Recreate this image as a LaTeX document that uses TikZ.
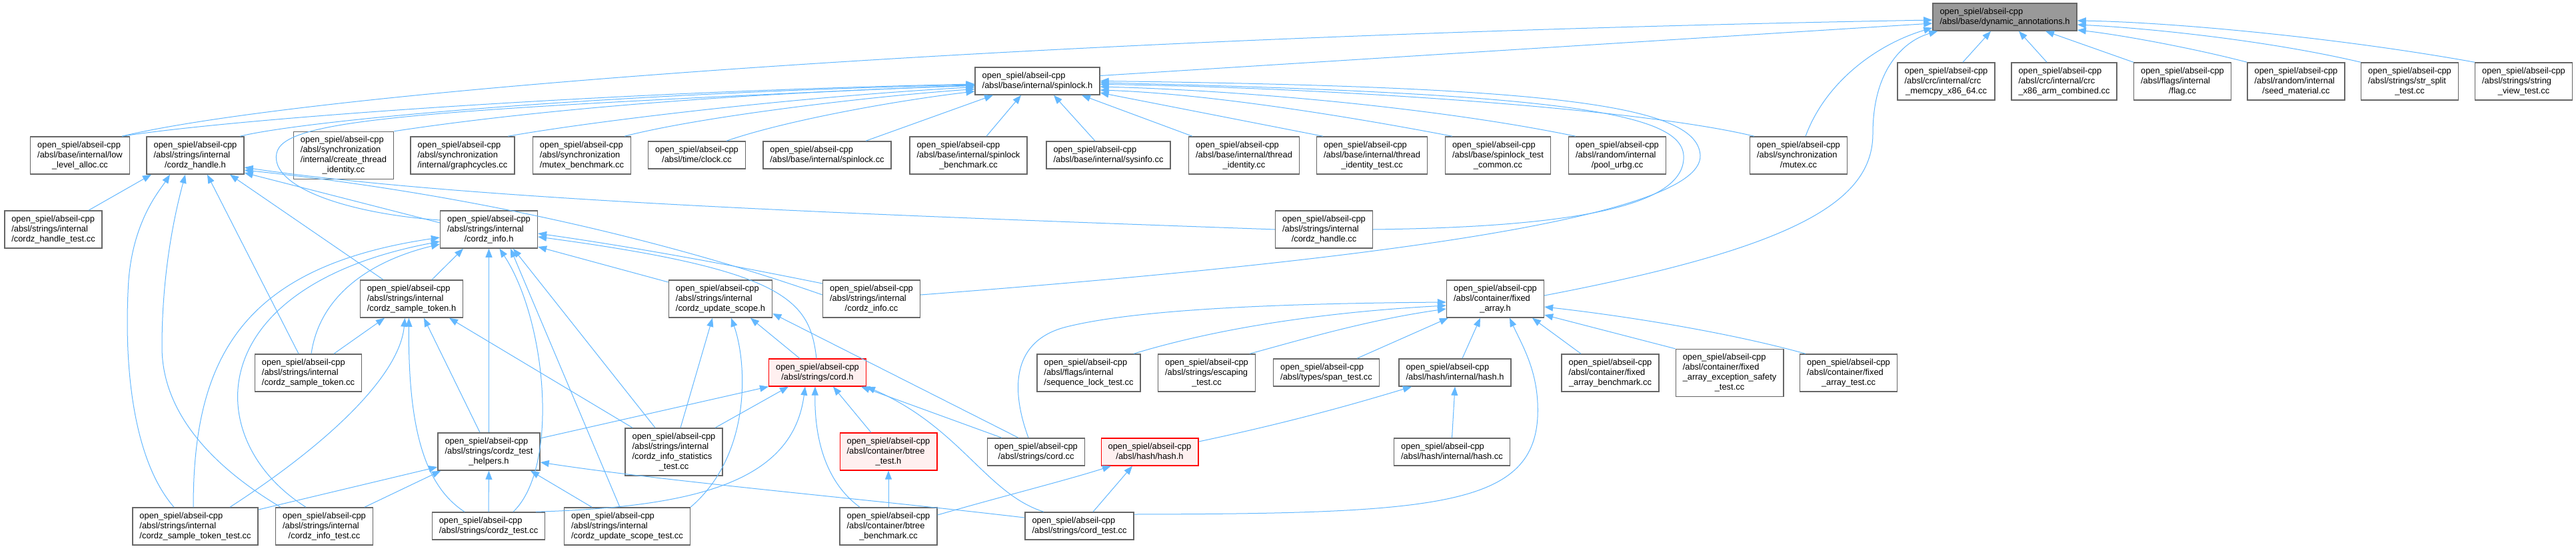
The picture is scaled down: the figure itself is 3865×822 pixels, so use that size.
\documentclass[tikz,border=0pt]{standalone}
\usepackage{fontspec}
\setmainfont{Liberation Sans}
\usetikzlibrary{arrows.meta}
\definecolor{edgeblue}{HTML}{63B8FF}
\definecolor{boxline}{HTML}{666666}
\definecolor{rootfill}{HTML}{999999}
\definecolor{hotfill}{HTML}{FFF0F0}
\newcommand{\fpath}[2]{\begin{tabular}{@{}l@{}}open\_spiel/abseil-cpp\\#1\multicolumn{1}{@{}c@{}}{#2}\end{tabular}}

\begin{document}
\begin{tikzpicture}[x=1pt, y=-1pt,
  file/.style={draw=boxline, fill=white, line width=1.5pt, inner xsep=10.5pt, inner ysep=5.5pt, font=\fontsize{12.9}{15}\selectfont},
  root/.style={file, fill=rootfill},
  hot/.style={file, draw=red, fill=hotfill, line width=1.2pt},
  inc/.style={draw=edgeblue, line width=1pt, -{Triangle[length=13pt,width=10pt]}}
]
\path[use as bounding box, fill=white] (0,0) rectangle (3865,822);

\node[root] (dyn) at (3008,25.5) {\fpath{}{/absl/base/dynamic\_annotations.h}};
\node[file] (spin) at (1556.5,121.5) {\fpath{}{/absl/base/internal/spinlock.h}};
\node[file] (crcm) at (2920,122) {\fpath{/absl/crc/internal/crc\\}{\_memcpy\_x86\_64.cc}};
\node[file] (crcx) at (3097,122) {\fpath{/absl/crc/internal/crc\\}{\_x86\_arm\_combined.cc}};
\node[file] (flag) at (3274.5,122) {\fpath{/absl/flags/internal\\}{/flag.cc}};
\node[file] (seed) at (3445,122) {\fpath{/absl/random/internal\\}{/seed\_material.cc}};
\node[file] (split) at (3615.5,122) {\fpath{/absl/strings/str\_split\\}{\_test.cc}};
\node[file] (sview) at (3786.5,122) {\fpath{/absl/strings/string\\}{\_view\_test.cc}};

\node[file] (lla) at (120,233) {\fpath{/absl/base/internal/low\\}{\_level\_alloc.cc}};
\node[file] (chh) at (293,233) {\fpath{/absl/strings/internal\\}{/cordz\_handle.h}};
\node[file] (cti) at (515.5,233) {\fpath{/absl/synchronization\\/internal/create\_thread\\}{\_identity.cc}};
\node[file] (gc) at (694,233) {\fpath{/absl/synchronization\\}{/internal/graphcycles.cc}};
\node[file] (mb) at (873,233) {\fpath{/absl/synchronization\\}{/mutex\_benchmark.cc}};
\node[file] (clk) at (1045.5,232.5) {\fpath{}{/absl/time/clock.cc}};
\node[file] (slcc) at (1241,232.5) {\fpath{}{/absl/base/internal/spinlock.cc}};
\node[file] (slb) at (1453,233) {\fpath{/absl/base/internal/spinlock\\}{\_benchmark.cc}};
\node[file] (sys) at (1663,232.5) {\fpath{}{/absl/base/internal/sysinfo.cc}};
\node[file] (ti) at (1866.5,233) {\fpath{/absl/base/internal/thread\\}{\_identity.cc}};
\node[file] (tit) at (2058.5,233) {\fpath{/absl/base/internal/thread\\}{\_identity\_test.cc}};
\node[file] (stc) at (2247.5,233) {\fpath{/absl/base/spinlock\_test\\}{\_common.cc}};
\node[file] (pu) at (2426.5,233) {\fpath{/absl/random/internal\\}{/pool\_urbg.cc}};
\node[file] (mtx) at (2698.5,233) {\fpath{/absl/synchronization\\}{/mutex.cc}};

\node[file] (cht) at (80,344) {\fpath{/absl/strings/internal\\}{/cordz\_handle\_test.cc}};
\node[file] (cih) at (733.5,344) {\fpath{/absl/strings/internal\\}{/cordz\_info.h}};
\node[file] (chc) at (1986.5,344) {\fpath{/absl/strings/internal\\}{/cordz\_handle.cc}};

\node[file] (csth) at (617.5,448) {\fpath{/absl/strings/internal\\}{/cordz\_sample\_token.h}};
\node[file] (cush) at (1081,448) {\fpath{/absl/strings/internal\\}{/cordz\_update\_scope.h}};
\node[file] (cicc) at (1307.5,448) {\fpath{/absl/strings/internal\\}{/cordz\_info.cc}};
\node[file] (fah) at (2243.5,448) {\fpath{/absl/container/fixed\\}{\_array.h}};

\node[file] (cstc) at (462.5,559) {\fpath{/absl/strings/internal\\}{/cordz\_sample\_token.cc}};
\node[hot] (cordh) at (1226.5,558.5) {\fpath{}{/absl/strings/cord.h}};
\node[file] (slt) at (1633.5,559) {\fpath{/absl/flags/internal\\}{/sequence\_lock\_test.cc}};
\node[file] (esc) at (1810.5,559) {\fpath{/absl/strings/escaping\\}{\_test.cc}};
\node[file] (span) at (1990,558.5) {\fpath{}{/absl/types/span\_test.cc}};
\node[file] (hih) at (2183,558.5) {\fpath{}{/absl/hash/internal/hash.h}};
\node[file] (fab) at (2416,559) {\fpath{/absl/container/fixed\\}{\_array\_benchmark.cc}};
\node[file] (fae) at (2595,559) {\fpath{/absl/container/fixed\\\_array\_exception\_safety\\}{\_test.cc}};
\node[file] (fat) at (2773.5,559) {\fpath{/absl/container/fixed\\}{\_array\_test.cc}};

\node[file] (cth) at (733.5,677) {\fpath{/absl/strings/cordz\_test\\}{\_helpers.h}};
\node[file] (cist) at (1011,677.5) {\fpath{/absl/strings/internal\\/cordz\_info\_statistics\\}{\_test.cc}};
\node[hot] (btth) at (1333,677) {\fpath{/absl/container/btree\\}{\_test.h}};
\node[file] (cordcc) at (1554.5,677.5) {\fpath{}{/absl/strings/cord.cc}};
\node[hot] (hashh) at (1725,677.5) {\fpath{}{/absl/hash/hash.h}};
\node[file] (hashcc) at (2178.5,677.5) {\fpath{}{/absl/hash/internal/hash.cc}};

\node[file] (cstt) at (293,789) {\fpath{/absl/strings/internal\\}{/cordz\_sample\_token\_test.cc}};
\node[file] (cit) at (486.5,789) {\fpath{/absl/strings/internal\\}{/cordz\_info\_test.cc}};
\node[file] (ctest) at (733,788.5) {\fpath{}{/absl/strings/cordz\_test.cc}};
\node[file] (cust) at (941,789) {\fpath{/absl/strings/internal\\}{/cordz\_update\_scope\_test.cc}};
\node[file] (btb) at (1333,789) {\fpath{/absl/container/btree\\}{\_benchmark.cc}};
\node[file] (cordtest) at (1619.5,788.5) {\fpath{}{/absl/strings/cord\_test.cc}};

\draw[inc] ([yshift=8pt]spin.east) -- ([yshift=-9.5pt]dyn.west);
\draw[inc] ([xshift=63pt]lla.north) .. controls (450,140) and (1500,55) .. ([yshift=-4.5pt]dyn.west);
\draw[inc] ([xshift=10.5pt]mtx.north) .. controls (2740,120) and (2820,65) .. ([yshift=5pt]dyn.south west);
\draw[inc] ([yshift=5pt]fah.east) .. controls (2700,370) and (2810,300) .. (2810,200) .. controls (2810,100) and (2860,60) .. ([xshift=8pt]dyn.south west);
\draw[inc] ([xshift=25pt]crcm.north) -- ([xshift=-21pt]dyn.south);
\draw[inc] ([xshift=-26pt]crcx.north) -- ([xshift=21pt]dyn.south);
\draw[inc] (flag.north west) -- ([xshift=61pt]dyn.south);
\draw[inc] (seed.north west) .. controls (3290,72) and (3180,52) .. ([yshift=-19.5pt]dyn.east);
\draw[inc] (split.north west) .. controls (3400,60) and (3220,42) .. ([yshift=-11.5pt]dyn.east);
\draw[inc] (sview.north west) .. controls (3500,55) and (3250,33) .. ([yshift=-5.5pt]dyn.east);

\draw[inc] ([xshift=63pt]lla.north) .. controls (350,178) and (900,138) .. ([yshift=-4.5pt]spin.west);
\draw[inc] ([xshift=67pt]chh.north) .. controls (460,180) and (900,140) .. ([yshift=-5.5pt]spin.west);
\draw[inc] (cti.north east) .. controls (800,165) and (1100,140) .. ([yshift=-7pt]spin.west);
\draw[inc] ([xshift=68pt]gc.north) .. controls (900,180) and (1200,145) .. ([yshift=-9pt]spin.west);
\draw[inc] ([xshift=64pt]mb.north) .. controls (1050,175) and (1300,145) .. ([yshift=-12pt]spin.west);
\draw[inc] ([xshift=44.5pt]clk.north) .. controls (1180,180) and (1350,150) .. ([yshift=-15.5pt]spin.west);
\draw[inc] ([yshift=14pt]cih.west) .. controls (520,320) and (405,280) .. (415,230) .. controls (425,180) and (600,165) .. ([yshift=-6pt]spin.west);
\draw[inc] ([xshift=58pt]slcc.north) -- ([xshift=-66.5pt]spin.south);
\draw[inc] ([xshift=27pt]slb.north) -- ([xshift=-24.5pt]spin.south);
\draw[inc] ([xshift=-20pt]sys.north) -- ([xshift=24.5pt]spin.south);
\draw[inc] ([xshift=-77.5pt]ti.north) -- ([xshift=66.5pt]spin.south);
\draw[inc] ([xshift=-73.5pt]tit.north) -- ([yshift=-17.5pt]spin.east);
\draw[inc] ([xshift=-68.5pt]stc.north) .. controls (2000,170) and (1800,140) .. ([yshift=-13.5pt]spin.east);
\draw[inc] ([xshift=-62.5pt]pu.north) .. controls (2150,160) and (1850,135) .. ([yshift=-8.5pt]spin.east);
\draw[inc] ([xshift=-66.5pt]mtx.north) .. controls (2450,160) and (1950,130) .. ([yshift=-5pt]spin.east);
\draw[inc] (chc.east) .. controls (2400,340) and (2530,300) .. (2526,233) .. controls (2522,170) and (2350,140) .. ([yshift=-2.5pt]spin.east);
\draw[inc] ([yshift=6pt]cicc.east) .. controls (2000,395) and (2555,330) .. (2551,233) .. controls (2547,160) and (2350,130) .. (spin.east);

\draw[inc] ([xshift=53pt]cht.north) -- ([xshift=-66pt]chh.south);
\draw[inc] ([xshift=-32pt]cstt.north) .. controls (200,690) and (185,550) .. (193,420) .. controls (200,330) and (240,285) .. ([xshift=-38pt]chh.south);
\draw[inc] ([xshift=-65.5pt]cit.north) .. controls (320,700) and (243,620) .. (243,520) .. controls (243,400) and (265,310) .. ([xshift=-15pt]chh.south);
\draw[inc] ([xshift=-14.5pt]cstc.north) -- ([xshift=18pt]chh.south);
\draw[inc] ([xshift=-42.5pt]csth.north) -- ([xshift=52pt]chh.south);
\draw[inc] (chc.west) .. controls (1300,322) and (700,300) .. ([yshift=-18pt]chh.east);
\draw[inc] ([yshift=10pt]cih.west) -- ([yshift=-26pt]chh.east);
\draw[inc] ([yshift=6pt]cicc.west) .. controls (1000,360) and (700,290) .. ([yshift=-22pt]chh.east);

\draw[inc] ([xshift=30.5pt]csth.north) -- ([xshift=-38.5pt]cih.south);
\draw[inc] (cth.north) -- (cih.south);
\draw[inc] ([xshift=37pt]ctest.north) .. controls (840,700) and (820,480) .. ([xshift=16pt]cih.south);
\draw[inc] ([xshift=-11pt]cust.north) -- ([xshift=32.5pt]cih.south);
\draw[inc] ([xshift=-28pt]cist.north) -- ([xshift=36.5pt]cih.south);
\draw[inc] ([yshift=25pt]cush.west) -- ([yshift=-26pt]cih.east);
\draw[inc] ([yshift=23pt]cicc.west) .. controls (1100,398) and (950,370) .. ([yshift=-6pt]cih.east);
\draw[inc] ([xshift=-1.5pt]cordh.north) .. controls (1215,450) and (1180,405) .. ([yshift=-11pt]cih.east);
\draw[inc] ([xshift=-3pt]cstt.north) .. controls (290,540) and (360,400) .. ([yshift=-12pt]cih.west);
\draw[inc] ([xshift=-27.5pt]cit.north) .. controls (300,660) and (300,430) .. ([yshift=-18pt]cih.west);
\draw[inc] ([xshift=4.5pt]cstc.north) .. controls (480,440) and (560,390) .. ([yshift=-22pt]cih.west);

\draw[inc] ([xshift=38.5pt]cstc.north) -- ([xshift=-40.5pt]csth.south);
\draw[inc] ([xshift=52pt]cstt.north) .. controls (500,660) and (600,560) .. ([xshift=-10pt]csth.south);
\draw[inc] ([xshift=-36pt]ctest.north) .. controls (640,730) and (612,650) .. ([xshift=-4pt]csth.south);
\draw[inc] ([xshift=-13.5pt]cth.north) -- ([xshift=18.5pt]csth.south);
\draw[inc] ([xshift=-62pt]cist.north) -- ([xshift=56.5pt]csth.south);

\draw[inc] ([xshift=10pt]cist.north) -- ([xshift=-12pt]cush.south);
\draw[inc] (cust.north east) .. controls (1130,680) and (1120,540) .. ([xshift=16pt]cush.south);
\draw[inc] ([xshift=-26.5pt]cordh.north) -- ([xshift=45pt]cush.south);
\draw[inc] ([xshift=-26.5pt]cordcc.north) -- ([yshift=-22pt]cush.east);

\draw[inc] ([yshift=20pt]cth.east) -- (cordh.south west);
\draw[inc] ([xshift=62pt]cist.north) -- ([xshift=-43.5pt]cordh.south);
\draw[inc] ([xshift=71pt]ctest.north) .. controls (1050,760) and (1190,720) .. ([xshift=-18.5pt]cordh.south);
\draw[inc] ([xshift=-43pt]btb.north) .. controls (1235,720) and (1222,650) .. ([xshift=-3.5pt]cordh.south);
\draw[inc] ([xshift=-26pt]btth.north) -- ([xshift=23.5pt]cordh.south);
\draw[inc] ([xshift=-51.5pt]cordcc.north) -- ([xshift=-8pt]cordh.south east);
\draw[inc] ([xshift=-53.5pt]cordtest.north) .. controls (1480,740) and (1440,640) .. (cordh.south east);

\draw[inc] ([xshift=-11.5pt]cordcc.north) .. controls (1515,580) and (1520,510) .. (1600,490) .. controls (1700,465) and (1900,455) .. ([yshift=-5pt]fah.west);
\draw[inc] ([xshift=67.5pt]slt.north) .. controls (1800,500) and (1950,470) .. ([yshift=-10pt]fah.west);
\draw[inc] ([xshift=64.5pt]esc.north) .. controls (1950,510) and (2050,480) .. ([yshift=-15pt]fah.west);
\draw[inc] ([xshift=46pt]span.north) -- ([xshift=3pt]fah.south west);
\draw[inc] ([xshift=11pt]hih.north) -- ([xshift=-22.5pt]fah.south);
\draw[inc] ([yshift=17.5pt]cordtest.east) .. controls (2150,770) and (2300,760) .. (2307,625) .. controls (2310,560) and (2285,520) .. ([xshift=21.5pt]fah.south);
\draw[inc] ([xshift=-44pt]fab.north) -- ([xshift=55.5pt]fah.south);
\draw[inc] (fae.north west) -- ([yshift=-24pt]fah.east);
\draw[inc] ([xshift=9pt]fat.north west) .. controls (2600,500) and (2450,475) .. ([yshift=-12pt]fah.east);

\draw[inc] ([yshift=15.5pt]hashh.east) .. controls (1950,630) and (2050,600) .. ([xshift=-65pt]hih.south);
\draw[inc] (hashcc.north) -- (hih.south);
\draw[inc] ([yshift=17pt]btb.east) .. controls (1500,745) and (1600,720) .. ([xshift=-58pt]hashh.south);
\draw[inc] ([xshift=20.5pt]cordtest.north) -- ([xshift=-26pt]hashh.south);
\draw[inc] (btb.north) -- (btth.south);

\draw[inc] ([yshift=25pt]cstt.east) -- ([yshift=-23pt]cth.west);
\draw[inc] ([xshift=60.5pt]cit.north) -- ([xshift=5pt]cth.south west);
\draw[inc] (ctest.north) -- (cth.south);
\draw[inc] ([xshift=-53pt]cust.north) -- ([xshift=62.5pt]cth.south);
\draw[inc] ([yshift=12.5pt]cordtest.west) .. controls (1300,748) and (1000,722) .. ([yshift=-16pt]cth.east);
\end{tikzpicture}
\end{document}
